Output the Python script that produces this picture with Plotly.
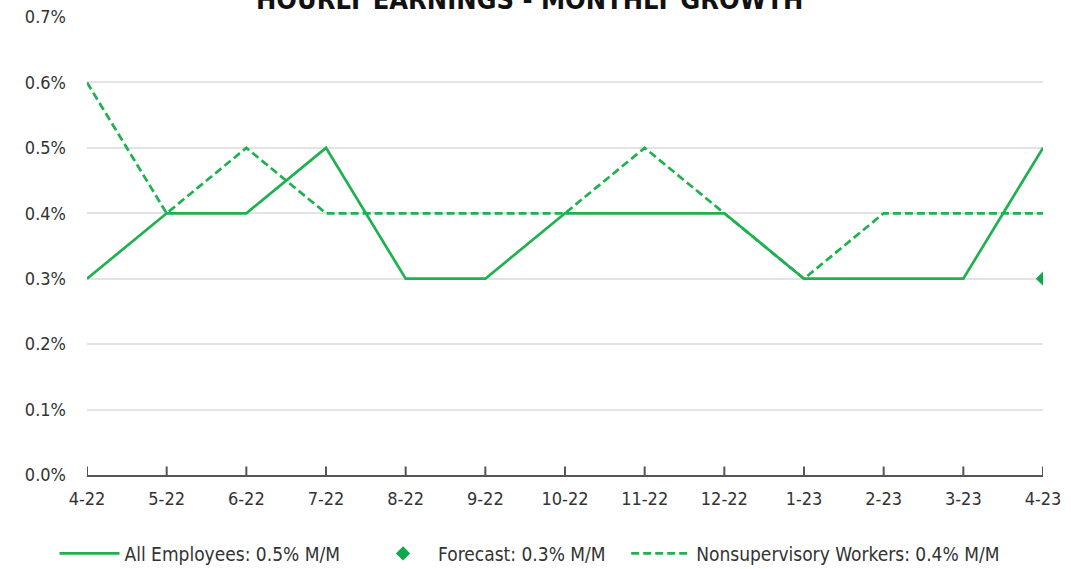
import plotly.graph_objects as go

months = ["4-22", "5-22", "6-22", "7-22", "8-22", "9-22", "10-22", "11-22",
          "12-22", "1-23", "2-23", "3-23", "4-23"]
all_employees = [0.3, 0.4, 0.4, 0.5, 0.3, 0.3, 0.4, 0.4, 0.4, 0.3, 0.3, 0.3, 0.5]
nonsupervisory = [0.6, 0.4, 0.5, 0.4, 0.4, 0.4, 0.4, 0.5, 0.4, 0.3, 0.4, 0.4, 0.4]
forecast_month = ["4-23"]
forecast_value = [0.3]
y_ticks = [0.0, 0.1, 0.2, 0.3, 0.4, 0.5, 0.6, 0.7]
y_tick_labels = ["0.0%", "0.1%", "0.2%", "0.3%", "0.4%", "0.5%", "0.6%", "0.7%"]

GREEN = "#1fb14f"
FONT = "Liberation Sans Narrow, DejaVu Sans Condensed, Liberation Sans, Arial, sans-serif"
TXT = "#333333"

fig = go.Figure()
fig.add_trace(go.Scatter(x=months, y=all_employees, mode="lines",
                         name="All Employees: 0.5% M/M", legend="legend",
                         line=dict(color=GREEN, width=2.7)))
fig.add_trace(go.Scatter(x=forecast_month, y=forecast_value, mode="markers",
                         name="Forecast: 0.3% M/M", legend="legend2",
                         marker=dict(color="#0fa84a", symbol="diamond", size=11)))
fig.add_trace(go.Scatter(x=months, y=nonsupervisory, mode="lines",
                         name="Nonsupervisory Workers: 0.4% M/M", legend="legend3",
                         line=dict(color=GREEN, width=2.7, dash="8px,4px")))

leg_common = dict(orientation="h", y=-0.13, yanchor="top", xanchor="left",
                  font=dict(family=FONT, size=19, color=TXT), itemwidth=60,
                  bgcolor="rgba(0,0,0,0)")
fig.update_layout(
    width=1071, height=569,
    margin=dict(l=87, r=28, t=17, b=94, autoexpand=False),
    paper_bgcolor="white", plot_bgcolor="white",
    font=dict(family=FONT, size=17, color=TXT),
    showlegend=True,
    legend=dict(x=-0.034, **leg_common),
    legend2=dict(x=0.294, **leg_common),
    legend3=dict(x=0.564, **leg_common),
    annotations=[dict(text="<b>HOURLY EARNINGS - MONTHLY GROWTH</b>",
                      x=0.463, xref="paper", y=1, yref="paper",
                      yanchor="middle", yshift=18, showarrow=False,
                      font=dict(family=FONT, size=27, color="#111111"))],
)
fig.update_xaxes(type="category", range=[0, 12], showgrid=False,
                 showline=True, linecolor="#555555", linewidth=2,
                 ticks="", automargin=False, ticklabelstandoff=6,
                 tickfont=dict(family=FONT, size=18, color=TXT),
                 zeroline=False)
fig.update_yaxes(range=[0, 0.7], tickvals=y_ticks, ticktext=y_tick_labels,
                 showgrid=True, gridcolor="#e3e3e3", gridwidth=2, automargin=False,
                 zeroline=False, showline=False, ticks="", ticklabelstandoff=20,
                 tickfont=dict(family=FONT, size=18, color=TXT))

# tick marks crossing the axis
for m in months:
    fig.add_shape(type="line", xref="x", yref="y", x0=m, x1=m, y0=-0.013, y1=0.013,
                  line=dict(color="#555555", width=2))

fig.write_html("out.html", config={"displayModeBar": False},
               post_script="document.body.style.margin='0';document.body.style.padding='0';")
